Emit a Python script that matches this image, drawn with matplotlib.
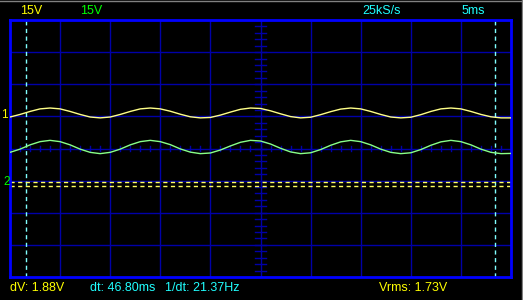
import matplotlib

matplotlib.use("Agg")
import matplotlib.pyplot as plt
import numpy as np
from matplotlib.lines import Line2D

# 时间轴 (ms)，5 ms/div，共 10 格
t_ms = np.arange(0, 51, 1)

# 通道 1（黄色）电压 (V)
yellow_v = [
    14.7, 15.9, 17.3, 18.5, 18.9, 18.5, 17.3, 15.9, 14.7, 14.3,
    14.7, 15.9, 17.3, 18.5, 18.9, 18.5, 17.4, 16.0, 14.8, 14.3,
    14.5, 15.6, 17.0, 18.3, 18.9, 18.7, 17.6, 16.2, 14.9, 14.3,
    14.6, 15.8, 17.2, 18.4, 18.9, 18.5, 17.3, 15.9, 14.7, 14.3,
    14.6, 15.8, 17.3, 18.5, 18.9, 18.5, 17.3, 15.9, 14.8, 14.3, 14.3,
]

# 通道 2（绿色）电压 (V)
green_v = [
    -1.8, -0.3, 1.7, 3.2, 3.8, 3.2, 1.7, -0.3, -1.8, -2.4,
    -1.8, -0.3, 1.7, 3.2, 3.8, 3.2, 1.8, -0.2, -1.7, -2.4,
    -2.1, -0.7, 1.2, 2.9, 3.8, 3.5, 2.1, 0.1, -1.6, -2.4,
    -2.0, -0.5, 1.5, 3.1, 3.8, 3.2, 1.7, -0.3, -1.8, -2.4,
    -2.0, -0.5, 1.5, 3.1, 3.8, 3.2, 1.7, -0.3, -1.8, -2.4, -2.3,
]

# 光标
time_cursors_ms = [1.6, 48.4]
volt_cursors_v = [-15.65, -17.5]

# 通道标记位置 (V)
ch1_marker_v = 15.5
ch2_marker_v = -15.6

V_PER_DIV = 15
MS_PER_DIV = 5

FONT = ["Liberation Sans Narrow", "Liberation Sans", "DejaVu Sans"]
GRID = "#0000a8"
FRAME = "#0000ff"
YEL_TRACE = "#ffff88"
GRN_TRACE = "#88ff88"
YEL_TEXT = "#ffff00"
GRN_TEXT = "#00ff00"
CYAN_TEXT = "#20ffff"

fig = plt.figure(figsize=(5.23, 3.0), dpi=100, facecolor="black")
ax = fig.add_axes([10 / 523, 23 / 300, 501 / 523, 257 / 300])
ax.set_facecolor("black")
ax.set_xlim(0, 10 * MS_PER_DIV)
ax.set_ylim(-4 * V_PER_DIV, 4 * V_PER_DIV)
ax.set_xticks([])
ax.set_yticks([])
for spine in ax.spines.values():
    spine.set_color(FRAME)
    spine.set_linewidth(2.0)

# 网格
for i in range(1, 10):
    ax.axvline(i * MS_PER_DIV, color=GRID, lw=1.0, zorder=1)
for j in range(-3, 4):
    ax.axhline(j * V_PER_DIV, color=GRID, lw=1.0, zorder=1)

# 中心线刻度
for x in np.arange(0, 10 * MS_PER_DIV, MS_PER_DIV / 5):
    ax.plot([x, x], [-1.0, 1.0], color=GRID, lw=1.0, zorder=1)
for y in np.arange(-4 * V_PER_DIV, 4 * V_PER_DIV, V_PER_DIV / 5):
    ax.plot([24.5, 25.5], [y, y], color=GRID, lw=1.0, zorder=1)

# 光标
for x in time_cursors_ms:
    ax.axvline(x, color="#80ffff", lw=1.0, ls=(0, (3, 2.5)), zorder=2)
for y in volt_cursors_v:
    ax.axhline(y, color="#ffff60", lw=1.0, ls=(0, (3, 2.5)), zorder=2)

# 波形
ax.plot(t_ms, yellow_v, color=YEL_TRACE, lw=1.0, zorder=3)
ax.plot(t_ms, green_v, color=GRN_TRACE, lw=1.0, zorder=3)

# 通道标记（放在图框左侧）
marker_tf = ax.get_yaxis_transform()
ax.text(-0.018, ch1_marker_v, "1", color=YEL_TEXT, fontsize=8.5, family=FONT,
        ha="left", va="center", clip_on=False, transform=marker_tf)
ax.text(-0.014, ch2_marker_v, "2", color=GRN_TEXT, fontsize=8.5, family=FONT,
        ha="left", va="center", clip_on=False, transform=marker_tf)

# 顶部和底部文字
def label(x, y, s, color):
    fig.text(x / 523, 1 - y / 300, s, color=color, fontsize=9, family=FONT,
             ha="left", va="center")

label(20, 10.5, "15V", YEL_TEXT)
label(80, 10.5, "15V", GRN_TEXT)
label(362, 10.5, "25kS/s", CYAN_TEXT)
label(462, 10.5, "5ms", CYAN_TEXT)
label(10, 288, "dV: 1.88V", YEL_TEXT)
label(90, 288, "dt: 46.80ms", CYAN_TEXT)
label(165, 288, "1/dt: 21.37Hz", CYAN_TEXT)
label(379, 288, "Vrms: 1.73V", YEL_TEXT)

# 窗口边框
fig.add_artist(Line2D([0, 1], [0.998, 0.998], color="#808080", lw=1.0,
                      transform=fig.transFigure))
fig.add_artist(Line2D([0.998, 0.998], [0, 1], color="#808080", lw=1.0,
                      transform=fig.transFigure))

fig.savefig("out.png", dpi=100, facecolor="black")
plt.close(fig)
